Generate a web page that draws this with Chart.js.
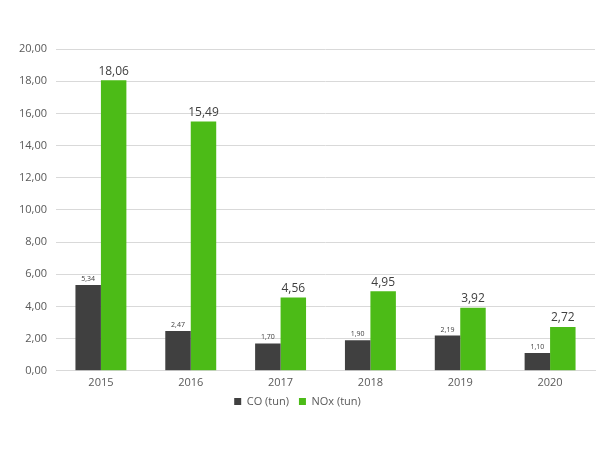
<!DOCTYPE html>
<html>
<head>
<meta charset="utf-8">
<script src="https://cdn.jsdelivr.net/npm/chart.js@4/dist/chart.umd.min.js"></script>
<style>
  html, body { margin: 0; padding: 0; background: #fff; }
  #wrap { width: 600px; height: 450px; }
</style>
</head>
<body>
<div id="wrap"><canvas id="chart" width="600" height="450"></canvas></div>
<script>
const years = ['2015', '2016', '2017', '2018', '2019', '2020'];
const coValues = [5.34, 2.47, 1.70, 1.90, 2.19, 1.10];
const noxValues = [18.06, 15.49, 4.56, 4.95, 3.92, 2.72];

const fmt = v => v.toFixed(2).replace('.', ',');

// draws the value above each bar, CO small and NOx larger
const valueLabels = {
    id: 'valueLabels',
    afterDatasetsDraw(chart) {
        const ctx = chart.ctx;
        chart.data.datasets.forEach((ds, i) => {
            const meta = chart.getDatasetMeta(i);
            const size = i === 0 ? 7 : 12;
            const gap = i === 0 ? 6 : 9;
            ctx.save();
            ctx.font = size + 'px "Open Sans", sans-serif';
            ctx.fillStyle = '#404040';
            ctx.textAlign = 'center';
            ctx.textBaseline = 'middle';
            meta.data.forEach((bar, j) => {
                ctx.fillText(fmt(ds.data[j]), bar.x, bar.y - gap);
            });
            ctx.restore();
        });
    }
};

// pull the legend a little closer to the axis labels
const legendNudge = {
    id: 'legendNudge',
    afterLayout(chart) {
        if (chart.legend) {
            chart.legend.top -= 8;
            chart.legend.bottom -= 8;
        }
    }
};

Chart.defaults.font.family = '"Open Sans", sans-serif';
Chart.defaults.color = '#595959';

new Chart(document.getElementById('chart').getContext('2d'), {
    type: 'bar',
    data: {
        labels: years,
        datasets: [{
            label: 'CO (tun)',
            data: coValues,
            backgroundColor: '#404040',
            categoryPercentage: 0.567,
            barPercentage: 1.0
        }, {
            label: 'NOx (tun)',
            data: noxValues,
            backgroundColor: '#4cbb17',
            categoryPercentage: 0.567,
            barPercentage: 1.0
        }]
    },
    options: {
        responsive: false,
        animation: false,
        layout: {
            padding: { top: 49, right: 5, bottom: 25, left: 0 }
        },
        scales: {
            x: {
                grid: { display: false, drawTicks: false },
                border: { color: '#d9d9d9' },
                ticks: { font: { size: 11 }, padding: 5 }
            },
            y: {
                min: 0,
                max: 20,
                ticks: {
                    stepSize: 2,
                    font: { size: 11 },
                    padding: 9,
                    callback: v => fmt(v)
                },
                grid: { color: '#d9d9d9', drawTicks: false },
                border: { display: false },
                afterFit: scale => { scale.width = 56; }
            }
        },
        plugins: {
            legend: {
                position: 'bottom',
                labels: {
                    boxWidth: 7,
                    boxHeight: 7,
                    font: { size: 11 },
                    padding: 10
                }
            },
            tooltip: { enabled: false }
        }
    },
    plugins: [valueLabels, legendNudge]
});
</script>
</body>
</html>
